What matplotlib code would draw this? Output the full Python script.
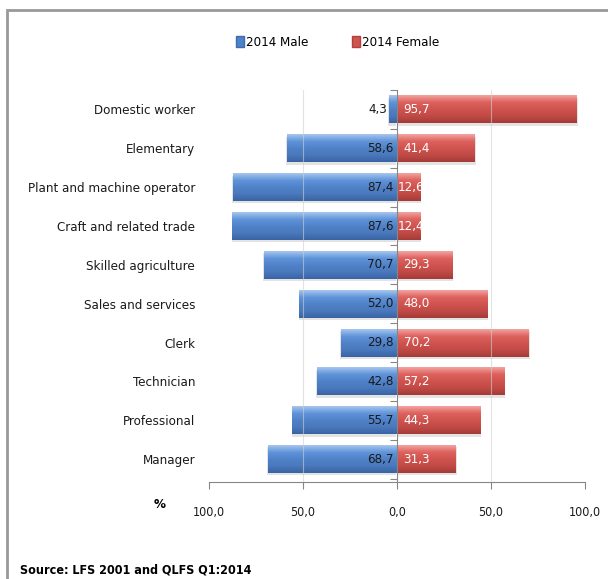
import numpy as np
import matplotlib.pyplot as plt
from matplotlib.patches import Patch, Rectangle
from matplotlib.colors import LinearSegmentedColormap

plt.rcParams['font.family'] = ['DejaVu Sans Condensed', 'Liberation Sans Narrow', 'DejaVu Sans']
plt.rcParams['font.stretch'] = 'condensed'

# occupation shares by sex, 2014 (percent)
occupations = ['Domestic worker', 'Elementary', 'Plant and machine operator',
               'Craft and related trade', 'Skilled agriculture', 'Sales and services',
               'Clerk', 'Technician', 'Professional', 'Manager']
male = [4.3, 58.6, 87.4, 87.6, 70.7, 52.0, 29.8, 42.8, 55.7, 68.7]
female = [95.7, 41.4, 12.6, 12.4, 29.3, 48.0, 70.2, 57.2, 44.3, 31.3]
xticks = [-100, -50, 0, 50, 100]

blue_cmap = LinearSegmentedColormap.from_list(
    'blue_bevel', ['#a7c6ee', '#6094da', '#5082c8', '#4a79bd', '#3a64a3'])
red_cmap = LinearSegmentedColormap.from_list(
    'red_bevel', ['#f2a3a0', '#de625e', '#cf5450', '#c24a46', '#a33b38'])


def fmt(v):
    return '{:.1f}'.format(abs(v)).replace('.', ',')


def shade_bars(ax, bars, cmap):
    '''paint a vertical gradient into each bar'''
    grad = np.linspace(0, 1, 64).reshape(-1, 1)
    for p in bars:
        x0, y0 = p.get_x(), p.get_y()
        w, h = p.get_width(), p.get_height()
        # soft shadow under the bar
        ax.add_patch(Rectangle((x0 + 0.4 * np.sign(w), y0 - 0.06), w, h,
                               color='#b0b0b0', alpha=0.35, lw=0, zorder=1))
        im = ax.imshow(grad, cmap=cmap, aspect='auto', interpolation='bicubic',
                       extent=(min(x0, x0 + w), max(x0, x0 + w), y0, y0 + h),
                       origin='upper', zorder=2)
        im.set_clip_path(p)


fig = plt.figure(figsize=(6.08, 5.79), dpi=100)
ax = fig.add_axes([0.3438, 0.1675, 0.6184, 0.677])

n = len(occupations)
ypos = np.arange(n)[::-1]

male_bars = ax.barh(ypos, [-v for v in male], height=0.72, color='#5082c8', zorder=2)
female_bars = ax.barh(ypos, female, height=0.72, color='#cf5450', zorder=2)
shade_bars(ax, male_bars, blue_cmap)
shade_bars(ax, female_bars, red_cmap)

# faint grid lines showing through the bars
for g in [-50, 50]:
    ax.axvline(g, color='#d0d0d0', lw=0.8, alpha=0.6, zorder=3)

# value labels
for y, m, f in zip(ypos, male, female):
    mx = -1.8 if m > 8 else -m - 1
    fx = 3.5 if f > 20 else 0.5
    ax.text(mx, y, fmt(m), ha='right', va='center', fontsize=9.5,
            color='#1a1a1a', zorder=4)
    ax.text(fx, y, fmt(f), ha='left', va='center', fontsize=9.5,
            color='white', zorder=4)

ax.set_xlim(-100, 100)
ax.set_ylim(-0.59, 9.5)
ax.set_xticks(xticks)
ax.set_xticklabels([fmt(t) for t in xticks], fontsize=9, color='#1a1a1a')
ax.tick_params(axis='x', length=5, color='#868686', pad=12)
ax.set_yticks(ypos)
ax.set_yticklabels(occupations, fontsize=9.5, color='#1a1a1a')
ax.tick_params(axis='y', length=0, pad=10)

for s in ['top', 'right', 'left']:
    ax.spines[s].set_visible(False)
ax.spines['bottom'].set_color('#868686')

# centre axis with category separators pointing left
centre = ax.secondary_yaxis(0.5)
centre.set_yticks(np.arange(-0.5, n, 1.0))
centre.set_yticklabels([])
centre.tick_params(axis='y', length=5, color='#868686', direction='in')
for s in centre.spines.values():
    s.set_color('#868686')
centre.set_zorder(5)

# legend
handles = [Patch(facecolor='#5082c8', edgecolor='#3f6cad', label='2014 Male'),
           Patch(facecolor='#cf5450', edgecolor='#b53f3c', label='2014 Female')]
fig.legend(handles=handles, loc='center', bbox_to_anchor=(0.555, 0.926), ncol=2,
           frameon=False, fontsize=9.5, handlelength=0.6, handleheight=0.9,
           handletextpad=0.15, columnspacing=3.3)

fig.text(0.263, 0.128, '%', fontsize=9.5, fontweight='bold', ha='center', va='center')
fig.text(0.033, 0.016, 'Source: LFS 2001 and QLFS Q1:2014', fontsize=9,
         fontweight='bold', ha='left', va='center')

# chart border (top and left edges)
fig.add_artist(Rectangle((0.012, -0.05), 1.2, 0.05 + 1 - 0.0165,
                         transform=fig.transFigure, fill=False,
                         edgecolor='#999999', lw=2))

fig.savefig('out.png', dpi=100)
